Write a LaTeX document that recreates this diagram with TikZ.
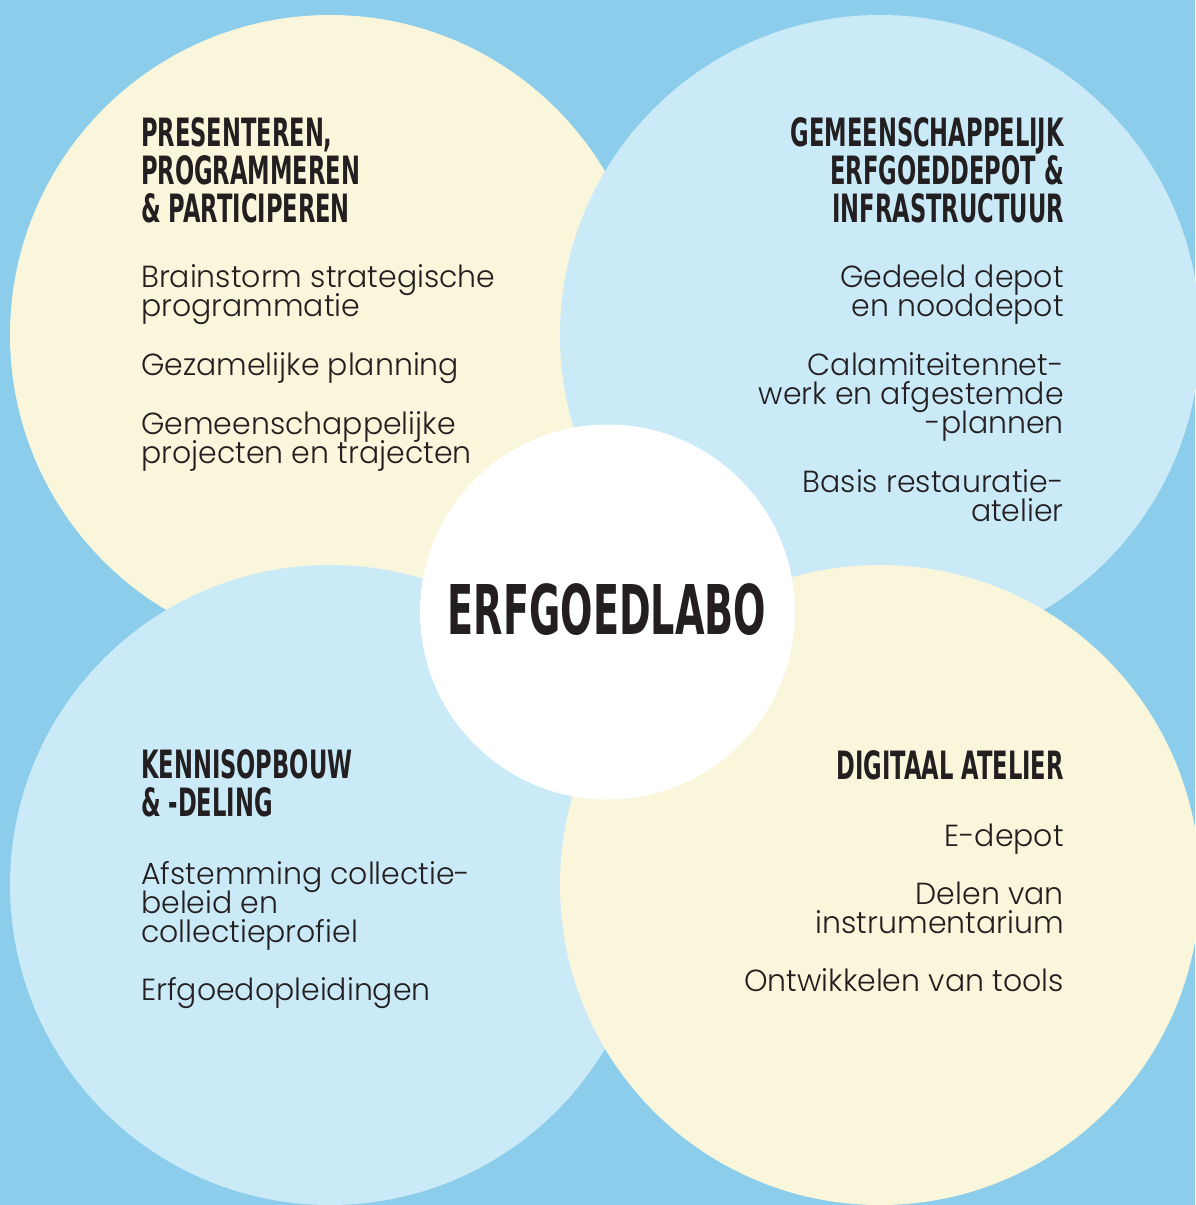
\documentclass[tikz,border=0pt]{standalone}
\usepackage{fontspec}
\newfontfamily\headfont{DejaVu Sans}[FakeStretch=0.58]
\newfontfamily\centerfont{DejaVu Sans}[FakeStretch=0.556]
\IfFontExistsTF{Poppins Light}
  {\newfontfamily\bodyfont{Poppins Light}[FakeStretch=0.982]}
  {\newfontfamily\bodyfont{Poppins}[FakeStretch=0.982]}
\definecolor{bgblue}{HTML}{8BCDEB}
\definecolor{cream}{HTML}{F9F6DC}
\definecolor{lightblue}{HTML}{CAEAF7}
\definecolor{ink}{HTML}{231F20}
\tikzset{
  bigcircle/.style={circle, minimum size=640pt, inner sep=0pt, draw=none},
  headline/.style={inner sep=0pt, text=ink, font=\headfont\bfseries\fontsize{39}{39}\selectfont},
  bodyline/.style={inner sep=0pt, text=ink, font=\bodyfont\fontsize{30.5}{30.5}\selectfont},
  hl/.style={headline, anchor=base west},
  hr/.style={headline, anchor=base east},
  bl/.style={bodyline, anchor=base west},
  br/.style={bodyline, anchor=base east},
}
\begin{document}
\begin{tikzpicture}[x=1pt, y=-1pt]
\useasboundingbox (0,0) rectangle (1195,1205);
\fill[bgblue] (0,0) rectangle (1195,1205);
% four circles
\node[bigcircle, fill=cream] (ctl) at (330,335) {};
\node[bigcircle, fill=lightblue] (ctr) at (880,335) {};
\node[bigcircle, fill=lightblue] (cbl) at (330,885) {};
\node[bigcircle, fill=cream] (cbr) at (880,885) {};
% centre
\node[circle, fill=white, minimum size=375pt, inner sep=0pt] (mid) at (607.5,612) {};
\node[inner sep=0pt, anchor=base, text=ink, font=\centerfont\bfseries\fontsize{68.6}{68.6}\selectfont] (midtext) at (607,634) {ERFGOEDLABO};
% top left
\node[hl] (tlh1) at (141,146) {PRESENTEREN,};
\node[hl] (tlh2) at (141,184) {PROGRAMMEREN};
\node[hl] (tlh3) at (141,222) {\& PARTICIPEREN};
\node[bl] (tlb1) at (141,287) {Brainstorm strategische};
\node[bl] (tlb2) at (141,316) {programmatie};
\node[bl] (tlb3) at (141,375) {Gezamelijke planning};
\node[bl] (tlb4) at (141,434) {Gemeenschappelijke};
\node[bl] (tlb5) at (141,463) {projecten en trajecten};
% top right
\node[hr] (trh1) at (1064,146) {GEMEENSCHAPPELIJK};
\node[hr] (trh2) at (1064,184) {ERFGOEDDEPOT \&};
\node[hr] (trh3) at (1064,222) {INFRASTRUCTUUR};
\node[br] (trb1) at (1064,287) {Gedeeld depot};
\node[br] (trb2) at (1064,316) {en nooddepot};
\node[br] (trb3) at (1064,375) {Calamiteitennet-};
\node[br] (trb4) at (1064,404) {werk en afgestemde};
\node[br] (trb5) at (1064,433) {-plannen};
\node[br] (trb6) at (1064,492) {Basis restauratie-};
\node[br] (trb7) at (1064,521) {atelier};
% bottom left
\node[hl] (blh1) at (141,778) {KENNISOPBOUW};
\node[hl] (blh2) at (141,816) {\& -DELING};
\node[bl] (blb1) at (141,884) {Afstemming collectie-};
\node[bl] (blb2) at (141,913) {beleid en};
\node[bl] (blb3) at (141,942) {collectieprofiel};
\node[bl] (blb4) at (141,1000) {Erfgoedopleidingen};
% bottom right
\node[hr] (brh1) at (1064,779) {DIGITAAL ATELIER};
\node[br] (brb1) at (1064,846) {E-depot};
\node[br] (brb2) at (1064,904) {Delen van};
\node[br] (brb3) at (1064,933) {instrumentarium};
\node[br] (brb4) at (1064,991) {Ontwikkelen van tools};
\end{tikzpicture}
\end{document}
